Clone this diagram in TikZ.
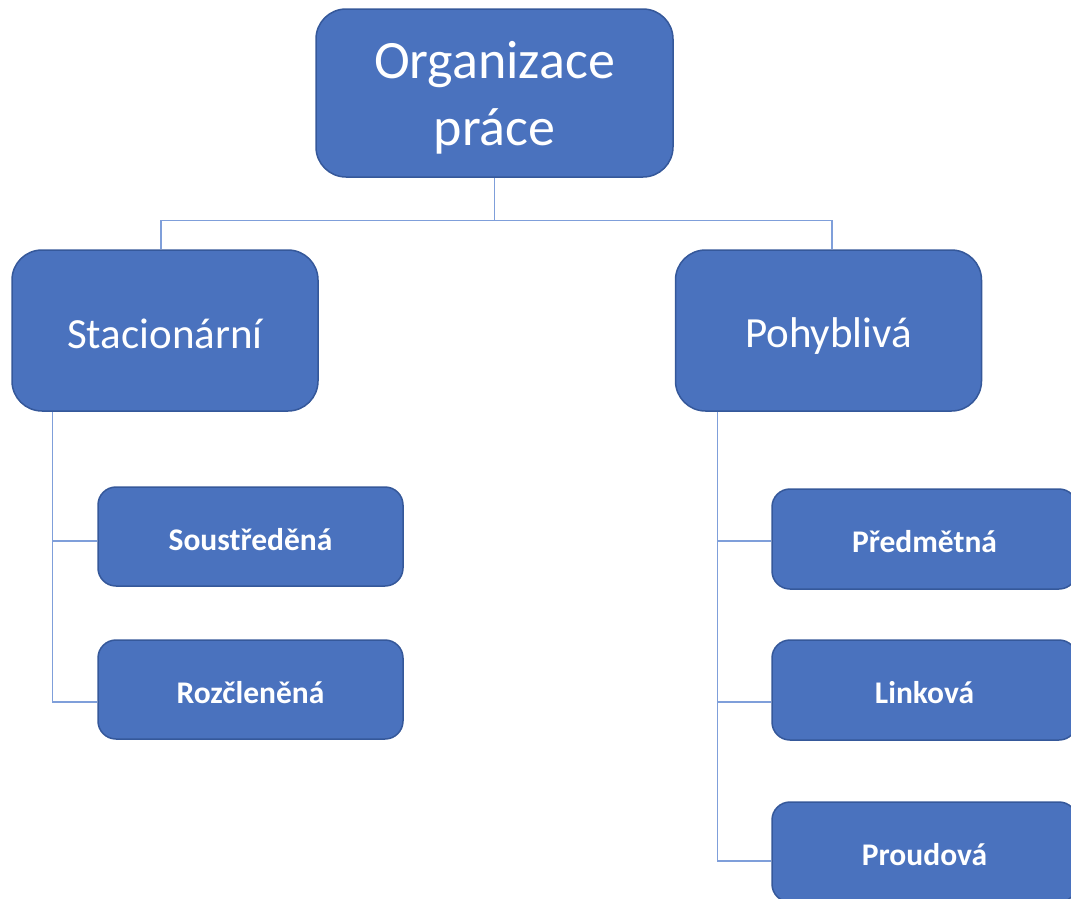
\documentclass[tikz,border=0pt]{standalone}
\usepackage{fontspec}
\setmainfont{Carlito}
\usetikzlibrary{calc}
\definecolor{boxfill}{HTML}{4A72BE}
\definecolor{boxline}{HTML}{35589A}
\definecolor{linkline}{HTML}{7F9FDA}
% draw a label a little lower while keeping its box size
\newcommand\lowered[2]{\raisebox{-#1}[\height][\depth]{#2}}
\tikzset{
  box/.style={draw=boxline, line width=1.5pt, fill=boxfill, text=white,
              rounded corners=#1, inner sep=0pt, align=center},
  bigbox/.style={box=30pt, minimum width=306pt, minimum height=161pt,
                 font=\fontsize{43}{52}\selectfont},
  smallbox/.style={box=18pt, minimum width=305pt, minimum height=100pt,
                   font=\bfseries\fontsize{31.5}{38}\selectfont},
  link/.style={draw=linkline, line width=1.4pt},
}
\begin{document}
\begin{tikzpicture}[x=1pt, y=-1pt]
  \useasboundingbox (0,0) rectangle (1071,898);
  \clip (0,0) rectangle (1071,898);

  % root
  \node[box=30pt, minimum width=357pt, minimum height=168pt,
        font=\fontsize{54}{67}\selectfont] (root) at (494.5,93)
        {\lowered{6pt}{\begin{tabular}{@{}c@{}}Organizace\\práce\end{tabular}}};

  % second level
  \node[bigbox] (stac) at (165,330.5) {\lowered{3pt}{Stacionární}};
  \node[bigbox] (pohy) at (828.5,330.5) {\lowered{6pt}{Pohyblivá}};

  % third level, left
  \node[smallbox, minimum height=99pt] (sous) at (250.5,536.5) {\lowered{3pt}{Soustředěná}};
  \node[smallbox, minimum height=99pt] (rozc) at (250.5,689.5) {\lowered{3pt}{Rozčleněná}};

  % third level, right
  \node[smallbox] (pred) at (924.5,539) {\lowered{3pt}{Předmětná}};
  \node[smallbox] (link) at (924.5,690) {\lowered{3pt}{Linková}};
  \node[smallbox] (prou) at (924.5,852) {\lowered{3pt}{Proudová}};

  % connectors from the root
  \coordinate (bus) at ($(root.south)+(0,43)$);
  \draw[link] (root.south) -- (bus);
  \draw[link] (bus) -| ($(stac.north)+(-4,0)$);
  \draw[link] (bus) -| ($(pohy.north)+(3.5,0)$);

  % connectors on the left
  \coordinate (ls) at ($(stac.south west)+(41,0)$);
  \draw[link] (ls) |- ($(sous.west)+(0,4.5)$);
  \draw[link] (ls) |- ($(rozc.west)+(0,12.5)$);

  % connectors on the right
  \coordinate (rs) at ($(pohy.south west)+(43,0)$);
  \draw[link] (rs) |- ($(pred.west)+(0,2)$);
  \draw[link] (rs) |- ($(link.west)+(0,12)$);
  \draw[link] (rs) |- ($(prou.west)+(0,9)$);
\end{tikzpicture}
\end{document}
